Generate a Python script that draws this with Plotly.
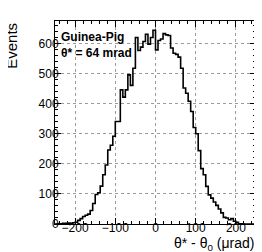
import plotly.graph_objects as go

# Histogram: 80 bins of 6.25 urad from -250 to 250
bin_lo = -250.0
bin_width = 6.25
counts = [
    0, 1, 1, 2, 2, 3, 2, 4,
    6, 12, 18, 25, 29, 33, 45, 68,
    98, 104, 126, 164, 196, 246, 262, 292,
    341, 341, 446, 422, 446, 496, 461, 518,
    620, 577, 588, 607, 631, 598, 620, 644,
    579, 610, 615, 633, 629, 627, 585, 568,
    564, 555, 518, 452, 435, 408, 374, 321,
    300, 244, 184, 164, 125, 97, 86, 73,
    62, 50, 37, 22, 20, 14, 18, 9,
    6, 1, 1, 0, 0, 0, 0, 0,
]
x_ticks = [-200, -100, 0, 100, 200]
y_ticks = [0, 100, 200, 300, 400, 500, 600]

edges = [bin_lo + i * bin_width for i in range(len(counts) + 1)]
ys = counts + [counts[-1]]

FONT = "Liberation Sans, Arial, Helvetica, sans-serif"

fig = go.Figure()
fig.add_trace(go.Scatter(
    x=edges, y=ys, mode="lines", line=dict(shape="hv", color="black", width=1.6),
    hoverinfo="skip", showlegend=False,
))

axis_common = dict(
    showline=True, linecolor="black", linewidth=1, mirror="allticks",
    ticks="inside", ticklen=6, tickwidth=1, tickcolor="black",
    showgrid=True, gridcolor="#9a9a9a", griddash="dot", gridwidth=1,
    zeroline=False, tickfont=dict(family=FONT, size=12, color="black"),
)

fig.update_xaxes(range=[-250, 250], tickvals=x_ticks, ticklabelstandoff=-7,
                 minor=dict(ticks="inside", dtick=20, tick0=0, ticklen=3, tickcolor="black", showgrid=False),
                 **axis_common)
fig.update_yaxes(range=[0, 675], tickvals=y_ticks, ticklabelstandoff=-7,
                 minor=dict(ticks="inside", dtick=20, tick0=0, ticklen=3, tickcolor="black", showgrid=False),
                 **axis_common)

fig.update_layout(
    width=262, height=252,
    margin=dict(l=47, r=14, t=13, b=36),
    paper_bgcolor="white", plot_bgcolor="white",
    font=dict(family=FONT, color="black"),
    annotations=[
        dict(text="<b>Guinea-Pig</b>", xref="paper", yref="paper", x=0.02, y=0.921,
             xanchor="left", yanchor="middle", showarrow=False,
             font=dict(family=FONT, size=12, color="black")),
        dict(text="<b>θ* = 64 mrad</b>", xref="paper", yref="paper", x=0.02, y=0.842,
             xanchor="left", yanchor="middle", showarrow=False,
             font=dict(family=FONT, size=12, color="black")),
        dict(text="Events", xref="paper", yref="paper", x=-0.22, y=1.0,
             xanchor="center", yanchor="top", textangle=-90, showarrow=False,
             font=dict(family=FONT, size=15, color="black")),
        dict(text="θ* - θ<sub>0</sub> (μrad)", xref="paper", yref="paper", x=1.0, y=-0.10,
             xanchor="right", yanchor="middle", showarrow=False,
             font=dict(family=FONT, size=14, color="black")),
    ],
)

fig.write_html("out.html")
